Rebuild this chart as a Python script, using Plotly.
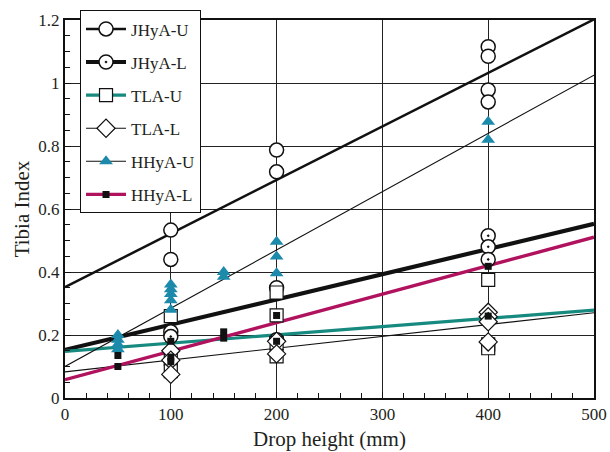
import plotly.graph_objects as go

# ---- data ----
series_names = ["JHyA-U", "JHyA-L", "TLA-U", "TLA-L", "HHyA-U", "HHyA-L"]

jhya_u_x = [100, 100, 200, 200, 400, 400, 400, 400]
jhya_u_y = [0.533, 0.44, 0.787, 0.718, 1.115, 1.085, 0.978, 0.94]

jhya_l_x = [100, 100, 200, 200, 400, 400, 400]
jhya_l_y = [0.21, 0.195, 0.35, 0.185, 0.515, 0.48, 0.44]

tla_u_x = [100, 100, 100, 200, 200, 200, 200, 400, 400, 400]
tla_u_y = [0.26, 0.125, 0.085, 0.335, 0.262, 0.175, 0.132, 0.375, 0.17, 0.158]

tla_l_x = [100, 100, 100, 200, 200, 400, 400, 400, 400]
tla_l_y = [0.15, 0.12, 0.075, 0.18, 0.14, 0.272, 0.258, 0.242, 0.178]

hhya_u_x = [50, 50, 50, 50, 100, 100, 100, 100, 100, 150, 150, 200, 200, 200, 400, 400]
hhya_u_y = [0.2, 0.185, 0.17, 0.155, 0.36, 0.345, 0.33, 0.31, 0.28, 0.40, 0.385, 0.496, 0.449, 0.396, 0.877, 0.82]

hhya_l_x = [50, 50, 100, 100, 100, 150, 150, 200, 200, 400, 400]
hhya_l_y = [0.135, 0.10, 0.18, 0.13, 0.115, 0.21, 0.19, 0.262, 0.18, 0.418, 0.26]

# fitted regression lines: intercept and slope
fit_intercepts = [0.352, 0.153, 0.148, 0.083, 0.100, 0.058]
fit_slopes = [0.0017, 0.0008, 0.000262, 0.000375, 0.00185, 0.000905]
fit_x_range = [0, 500]

x_ticks = [0, 100, 200, 300, 400, 500]
y_ticks = [0, 0.2, 0.4, 0.6, 0.8, 1.0, 1.2]
y_tick_labels = ["0", "0.2", "0.4", "0.6", "0.8", "1", "1.2"]

# ---- styles ----
TEAL_TRI = "#1c8aab"
TEAL_LINE = "#178a80"
MAGENTA = "#b0125e"
BLACK = "#111111"

line_styles = [
    dict(color=BLACK, width=2.5),
    dict(color=BLACK, width=4.2),
    dict(color=TEAL_LINE, width=3.2),
    dict(color=BLACK, width=1.1),
    dict(color=BLACK, width=1.1),
    dict(color=MAGENTA, width=3.4),
]
marker_styles = [
    dict(symbol="circle", size=14, color="white", line=dict(color=BLACK, width=1.5)),
    dict(symbol="circle-dot", size=14, color="white", line=dict(color=BLACK, width=1.5)),
    dict(symbol="square", size=13, color="white", line=dict(color=BLACK, width=1.2)),
    dict(symbol="diamond", size=14, color="white", line=dict(color=BLACK, width=1.2)),
    dict(symbol="triangle-up", size=12, color=TEAL_TRI, line=dict(color=TEAL_TRI, width=0)),
    dict(symbol="square", size=7, color=BLACK, line=dict(color=BLACK, width=0)),
]
data_x = [jhya_u_x, jhya_l_x, tla_u_x, tla_l_x, hhya_u_x, hhya_l_x]
data_y = [jhya_u_y, jhya_l_y, tla_u_y, tla_l_y, hhya_u_y, hhya_l_y]

fig = go.Figure()

# legend-only traces
for i, name in enumerate(series_names):
    fig.add_trace(go.Scatter(
        x=[None], y=[None], mode="lines+markers", name=name,
        line=line_styles[i], marker=marker_styles[i],
        legendgroup=name, showlegend=True, hoverinfo="skip"))

# fit lines
for i, name in enumerate(series_names):
    fx = fit_x_range
    fy = [fit_intercepts[i] + fit_slopes[i] * v for v in fx]
    fig.add_trace(go.Scatter(x=fx, y=fy, mode="lines", line=line_styles[i],
                             showlegend=False, legendgroup=name, hoverinfo="skip"))

# data markers
for i, name in enumerate(series_names):
    fig.add_trace(go.Scatter(x=data_x[i], y=data_y[i], mode="markers",
                             marker=marker_styles[i], showlegend=False,
                             legendgroup=name))

font_family = "Liberation Serif"
TXT = "#231f20"

fig.update_layout(
    width=610, height=452,
    margin=dict(l=65, r=16, t=20, b=54, autoexpand=False),
    paper_bgcolor="white", plot_bgcolor="white",
    font=dict(family=font_family, color=TXT, size=17),
    showlegend=True,
    legend=dict(
        x=0.028, y=1.026, xanchor="left", yanchor="top",
        bgcolor="white", bordercolor=BLACK, borderwidth=1.2,
        font=dict(family=font_family, size=17, color=TXT),
        itemwidth=40, tracegroupgap=8,
    ),
    xaxis=dict(
        range=[0, 500], tickvals=x_ticks, ticktext=[str(v) for v in x_ticks],
        showgrid=True, gridcolor="#222222", gridwidth=1,
        showline=True, linecolor=BLACK, linewidth=2, mirror=True,
        ticks="inside", ticklen=6, tickcolor=BLACK, tickwidth=1,
        minor=dict(dtick=20, ticks="inside", ticklen=5, tickcolor=BLACK, tickwidth=1, showgrid=False),
        zeroline=False, automargin=False,
        title=dict(text="Drop height (mm)", font=dict(size=21, family=font_family, color=TXT), standoff=8),
        tickfont=dict(size=17, family=font_family, color=TXT),
    ),
    yaxis=dict(
        range=[0, 1.2], tickvals=y_ticks, ticktext=y_tick_labels,
        showgrid=True, gridcolor="#222222", gridwidth=1,
        showline=True, linecolor=BLACK, linewidth=2, mirror=True,
        ticks="inside", ticklen=6, tickcolor=BLACK, tickwidth=1,
        minor=dict(dtick=0.05, ticks="inside", ticklen=5, tickcolor=BLACK, tickwidth=1, showgrid=False),
        zeroline=False, automargin=False,
        title=dict(text="Tibia Index", font=dict(size=21, family=font_family, color=TXT), standoff=3),
        tickfont=dict(size=17, family=font_family, color=TXT),
    ),
)

fig.write_html("out.html")
